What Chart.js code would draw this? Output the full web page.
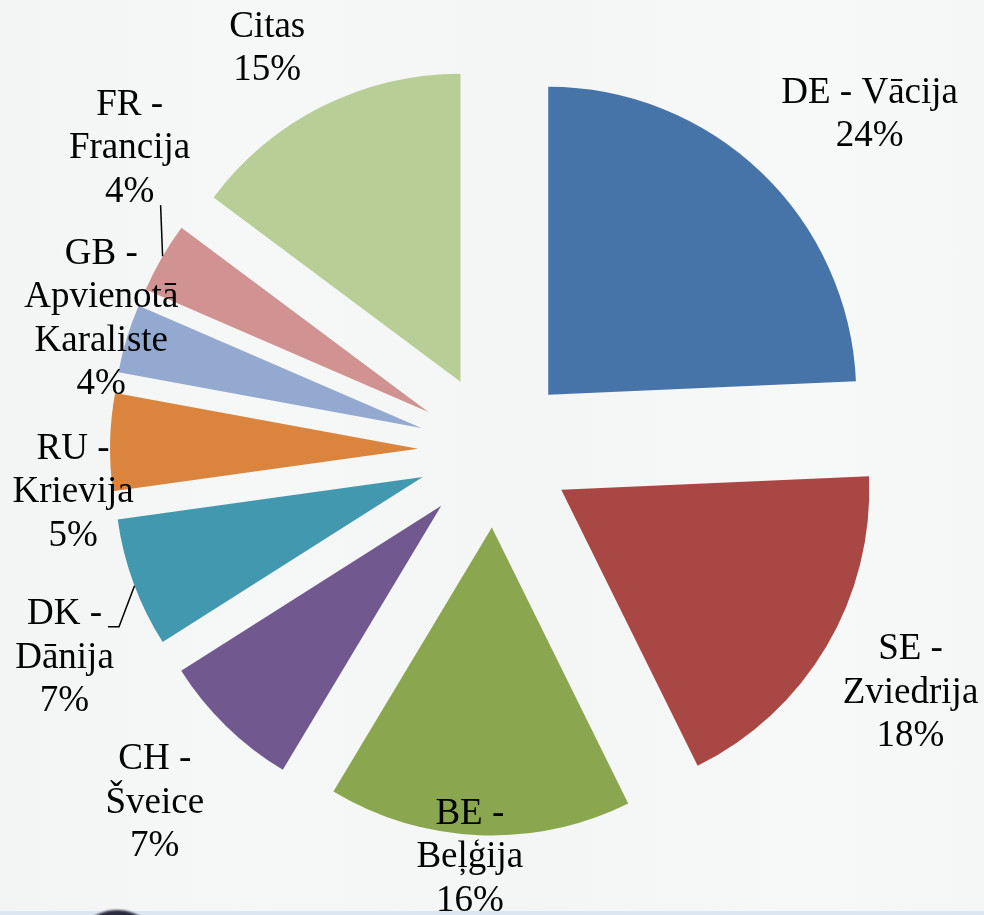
<!DOCTYPE html>
<html>
<head>
<meta charset="utf-8">
<script src="https://cdn.jsdelivr.net/npm/chart.js@4.4.1/dist/chart.umd.min.js"></script>
<style>
  html, body { margin: 0; padding: 0; }
  body {
    width: 984px;
    height: 915px;
    overflow: hidden;
    position: relative;
    background: linear-gradient(90deg, #f3f4f4 0%, #f6f7f7 25%, #f4f5f5 55%, #f7f8f8 82%, #f5f6f6 100%);
  }
  .strip {
    position: absolute; left: 0; top: 911px; width: 984px; height: 4px;
    background: #dce6f2;
  }
  .knob {
    position: absolute; left: 72px; top: 910px; width: 90px; height: 90px;
    border-radius: 50%; background: #2b2b3f; filter: blur(1px);
  }
  #wrap { position: absolute; left: 0; top: 0; }
</style>
</head>
<body>
<div class="strip"></div>
<div class="knob"></div>
<div id="wrap"><canvas id="pie" width="984" height="915"></canvas></div>
<script>
// eksporta daļas pa valstīm, %
const categories = [
  "DE - Vācija",
  "SE - Zviedrija",
  "BE - Beļģija",
  "CH - Šveice",
  "DK - Dānija",
  "RU - Krievija",
  "GB - Apvienotā Karaliste",
  "FR - Francija",
  "Citas"
];
const shares = [24.3, 18.4, 15.9, 7.4, 6.8, 5.1, 3.6, 3.7, 14.8];
const sliceColors = [
  "#4674a8", "#a94744", "#8aa64e", "#71598f", "#4299af",
  "#db843d", "#93a9cf", "#d19392", "#b9cd96"
];

// izkārtojums: uzrakstu attālums no centra un pagrieziens pret sektora viduslīniju (grādos)
const labelDist = [503, 481, 408, 490, 478, 424, 415, 474, 462];
const labelTurn = [4.4, -0.35, 1.2, -0.3, -5.6, -6.95, 1.5, 9.5, -2.9];
// norādes līnijas (null = nav līnijas), pagrieziens uz loka
const leaderTurn = [null, null, null, null, -0.5, null, null, 0.3, null];

const EXPLODE = 77;
const RADIUS = 308;
const FONT = '37px "Liberation Serif", "Times New Roman", serif';
const LINE_H = 43.5;
const WRAP_W = 179;

const rad = (d) => (d * Math.PI) / 180;

function wrapLabel(ctx, text) {
  const words = text.split(" ");
  const lines = [];
  let cur = "";
  words.forEach(function (w) {
    const test = cur ? cur + " " + w : w;
    if (cur && ctx.measureText(test).width > WRAP_W) {
      lines.push(cur);
      cur = w;
    } else {
      cur = test;
    }
  });
  if (cur) lines.push(cur);
  return lines;
}

function pieCenter(chart) {
  const a = chart.chartArea;
  return { x: (a.left + a.right) / 2, y: (a.top + a.bottom) / 2 };
}

// sektori izbīdīti no centra pa viduslīniju
const explodePlugin = {
  id: "explode",
  beforeDatasetsDraw(chart) {
    const c = pieCenter(chart);
    chart.getDatasetMeta(0).data.forEach(function (arc) {
      const mid = (arc.startAngle + arc.endAngle) / 2;
      arc.x = c.x + Math.cos(mid) * EXPLODE;
      arc.y = c.y + Math.sin(mid) * EXPLODE;
    });
  }
};

const labelPlugin = {
  id: "sliceLabels",
  afterDatasetsDraw(chart) {
    const ctx = chart.ctx;
    const c = pieCenter(chart);
    const total = shares.reduce((s, v) => s + v, 0);
    ctx.save();
    ctx.font = FONT;
    ctx.fillStyle = "#000";
    ctx.strokeStyle = "#000";
    ctx.lineWidth = 1.5;
    ctx.textAlign = "center";
    ctx.textBaseline = "middle";

    chart.getDatasetMeta(0).data.forEach(function (arc, i) {
      const mid = (arc.startAngle + arc.endAngle) / 2;
      const ang = mid + rad(labelTurn[i]);
      const lx = c.x + Math.cos(ang) * labelDist[i];
      const ly = c.y + Math.sin(ang) * labelDist[i];

      const lines = wrapLabel(ctx, categories[i]);
      lines.push(Math.round((shares[i] / total) * 100) + "%");
      const n = lines.length;
      const firstY = ly - ((n - 1) / 2) * LINE_H;
      lines.forEach(function (t, k) {
        ctx.fillText(t, lx, firstY + k * LINE_H);
      });

      if (leaderTurn[i] !== null) {
        const ea = mid + rad(leaderTurn[i]);
        const ex = arc.x + Math.cos(ea) * RADIUS;
        const ey = arc.y + Math.sin(ea) * RADIUS;
        const widest = Math.max.apply(null, lines.map((t) => ctx.measureText(t).width));
        const lastBase = firstY + (n - 1) * LINE_H + 12;
        ctx.beginPath();
        if (ey > lastBase) {
          const sx = Math.min(Math.max(ex - 2, lx - widest / 2), lx + widest / 2);
          ctx.moveTo(sx, lastBase + 1);
          ctx.lineTo(ex, ey);
        } else {
          const sx = lx + ctx.measureText(lines[0]).width / 2 + 6;
          const sy = firstY + 12;
          ctx.moveTo(sx, sy);
          ctx.lineTo(sx + 11, sy);
          ctx.lineTo(ex, ey);
        }
        ctx.stroke();
      }
    });
    ctx.restore();
  }
};

new Chart(document.getElementById("pie"), {
  type: "pie",
  data: {
    labels: categories,
    datasets: [
      {
        data: shares,
        backgroundColor: sliceColors,
        borderWidth: 0,
        radius: RADIUS
      }
    ]
  },
  options: {
    responsive: false,
    animation: false,
    events: [],
    layout: { padding: { left: 6, right: 0, top: 0, bottom: 14 } },
    plugins: {
      legend: { display: false },
      tooltip: { enabled: false }
    }
  },
  plugins: [explodePlugin, labelPlugin]
});
</script>
</body>
</html>
